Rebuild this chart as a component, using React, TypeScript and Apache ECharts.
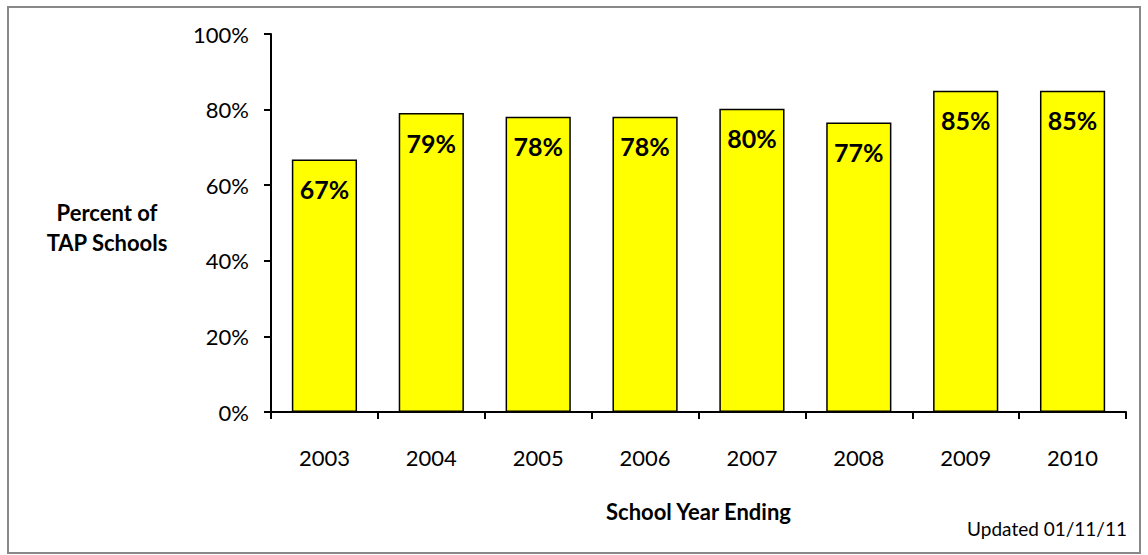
import React, { useEffect, useRef } from "react";
import * as echarts from "echarts";

const categories = ["2003", "2004", "2005", "2006", "2007", "2008", "2009", "2010"];
const values = [66.8, 79.1, 78.1, 78.1, 80.2, 76.6, 85.0, 85.0];
const yTicks = [0, 20, 40, 60, 80, 100];

const FONT = "Lato, 'Open Sans', sans-serif";

export default function App() {
  const ref = useRef<HTMLDivElement>(null);
  useEffect(() => {
    if (!ref.current) return;
    const chart = echarts.init(ref.current, undefined, { renderer: "svg" });
    chart.setOption({
      animation: false,
      backgroundColor: "#ffffff",
      textStyle: { fontFamily: FONT },
      grid: { left: 271, top: 34, right: 22, bottom: 143, containLabel: false },
      xAxis: {
        type: "category",
        data: categories,
        boundaryGap: true,
        axisLine: { lineStyle: { color: "#000", width: 2 } },
        axisTick: { show: true, length: 7, lineStyle: { color: "#000", width: 2 } },
        axisLabel: { color: "#000", fontSize: 22, fontFamily: FONT, margin: 34 },
        name: "School Year Ending",
        nameLocation: "middle",
        nameGap: 88,
        nameTextStyle: { color: "#000", fontSize: 22, fontWeight: "bold", fontFamily: FONT },
      },
      yAxis: {
        type: "value",
        min: 0,
        max: 100,
        interval: 20,
        axisLine: { show: true, lineStyle: { color: "#000", width: 2 } },
        axisTick: { show: true, length: 7, lineStyle: { color: "#000", width: 2 } },
        splitLine: { show: false },
        axisLabel: {
          color: "#000",
          fontSize: 22,
          fontFamily: FONT,
          margin: 22,
          formatter: (v: number) => (yTicks.includes(v) ? `${v}%` : ""),
        },
      },
      graphic: [
        {
          type: "rect",
          shape: { x: 8, y: 7, width: 1132, height: 546 },
          style: { fill: "none", stroke: "#888", lineWidth: 2 },
          z: 100,
          silent: true,
        },
        {
          type: "text",
          x: 107,
          y: 227,
          style: {
            text: "Percent of\nTAP Schools",
            fill: "#000",
            font: `bold 22px ${FONT}`,
            align: "center",
            verticalAlign: "middle",
            lineHeight: 30,
          },
        },
        {
          type: "text",
          x: 1127,
          y: 528,
          style: {
            text: "Updated 01/11/11",
            fill: "#000",
            font: `19px ${FONT}`,
            align: "right",
            verticalAlign: "middle",
          },
        },
      ],
      series: [
        {
          type: "bar",
          data: values,
          barWidth: "61%",
          itemStyle: { color: "#FFFF00", borderColor: "#000", borderWidth: 1.5 },
          label: {
            show: true,
            position: "insideTop",
            distance: 17,
            color: "#000",
            fontSize: 25,
            fontWeight: "bold",
            fontFamily: FONT,
            formatter: (p: any) => `${Math.round(p.value)}%`,
          },
        },
      ],
    });
    return () => chart.dispose();
  }, []);
  return (
    <div
      ref={ref}
      style={{ position: "fixed", left: 0, top: 0, width: 1148, height: 555 }}
    />
  );
}
